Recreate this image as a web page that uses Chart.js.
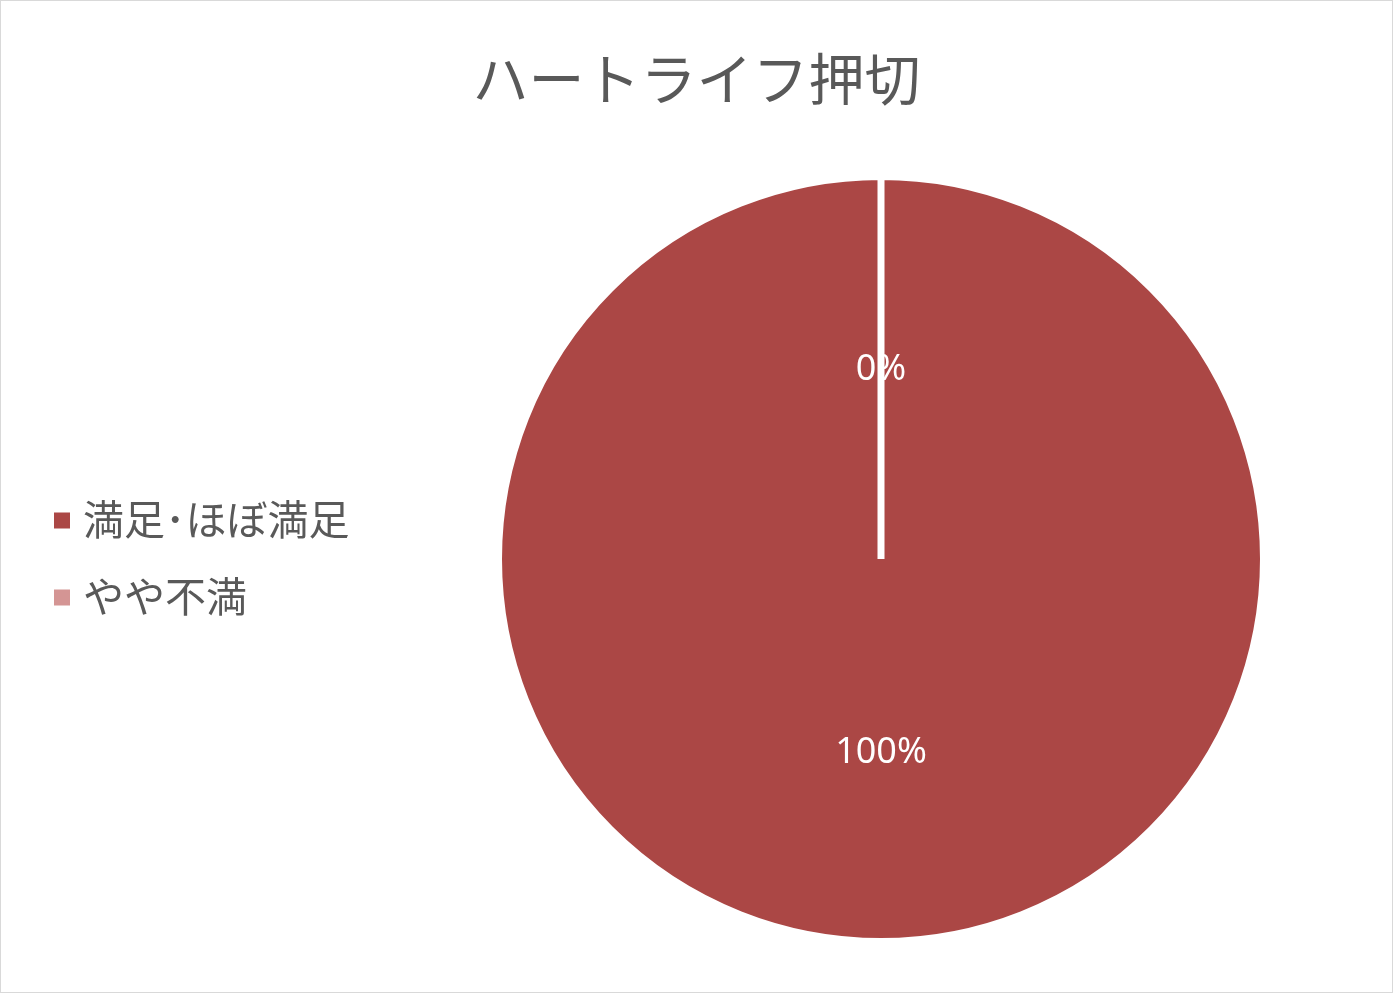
<!DOCTYPE html>
<html lang="ja">
<head>
<meta charset="utf-8">
<title>ハートライフ押切</title>
<script src="https://cdn.jsdelivr.net/npm/chart.js@4.4.1/dist/chart.umd.min.js"></script>
<style>
  html, body { margin: 0; padding: 0; background: #fff; }
  .frame { width: 1391px; height: 991px; border: 1px solid #d9d9d9; position: relative; }
  canvas { display: block; }
</style>
</head>
<body>
<div class="frame"><canvas id="pieChart" width="1391" height="991"></canvas></div>
<script>
// ── Data ──
const chartTitle = 'ハートライフ押切';
const categories = ['満足･ほぼ満足', 'やや不満'];
const shares = [100, 0];
const sliceColors = ['#ab4745', '#d49594'];

const JP_FONT = '"Noto Sans CJK JP", "Noto Sans", sans-serif';

// ── Title centred on the whole canvas (not on the pie area) ──
const pageTitle = {
  id: 'pageTitle',
  afterDraw(chart) {
    const { ctx, width } = chart;
    ctx.save();
    ctx.fillStyle = '#595959';
    ctx.font = '56px ' + JP_FONT;
    ctx.textAlign = 'center';
    ctx.textBaseline = 'middle';
    ctx.fillText(chartTitle, width / 2, 78);
    ctx.restore();
  }
};

// ── Percent labels inside slices ──
const sliceLabels = {
  id: 'sliceLabels',
  afterDatasetsDraw(chart) {
    const { ctx } = chart;
    const meta = chart.getDatasetMeta(0);
    const values = chart.data.datasets[0].data;
    const total = values.reduce((a, b) => a + b, 0);
    ctx.save();
    ctx.fillStyle = '#ffffff';
    ctx.font = '36px "Noto Sans", sans-serif';
    ctx.textAlign = 'center';
    ctx.textBaseline = 'middle';
    meta.data.forEach((arc, i) => {
      const pos = arc.tooltipPosition();
      const pct = Math.round(values[i] / total * 100) + '%';
      ctx.fillText(pct, pos.x, pos.y + 2);
    });
    ctx.restore();
  }
};

// ── Legend on the left, vertically centred on the pie ──
const sideLegend = {
  id: 'sideLegend',
  afterDraw(chart) {
    const { ctx, chartArea } = chart;
    const midY = (chartArea.top + chartArea.bottom) / 2;
    const step = 77;
    const n = chart.data.labels.length;
    ctx.save();
    ctx.font = '41px ' + JP_FONT;
    ctx.textBaseline = 'middle';
    chart.data.labels.forEach((label, i) => {
      const y = midY + (i - (n - 1) / 2) * step;
      ctx.fillStyle = chart.data.datasets[0].backgroundColor[i];
      ctx.fillRect(53, y - 8, 16, 16);
      ctx.fillStyle = '#595959';
      ctx.fillText(label, 82, y - 1);
    });
    ctx.restore();
  }
};

new Chart(document.getElementById('pieChart'), {
  type: 'pie',
  data: {
    labels: categories,
    datasets: [{
      data: shares,
      backgroundColor: sliceColors,
      borderColor: '#ffffff',
      borderWidth: 7,
    }]
  },
  options: {
    responsive: false,
    animation: false,
    layout: { padding: { left: 369, right: 0, top: 172, bottom: 47 } },
    plugins: {
      legend: { display: false },
      tooltip: { enabled: false },
      title: { display: false }
    }
  },
  plugins: [sliceLabels, sideLegend, pageTitle]
});
</script>
</body>
</html>
